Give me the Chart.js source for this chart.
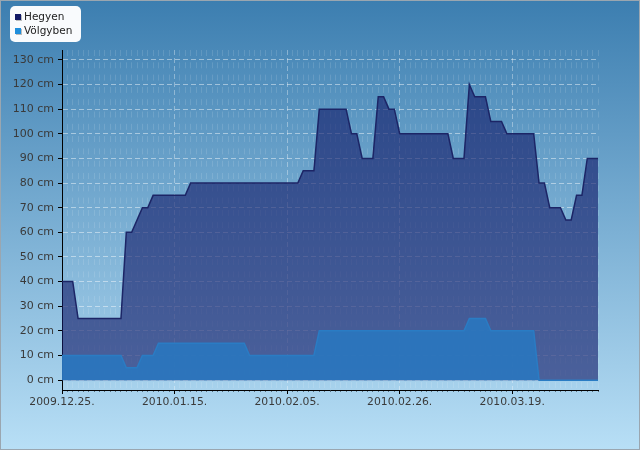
<!DOCTYPE html>
<html>
<head>
<meta charset="utf-8">
<script src="https://cdn.jsdelivr.net/npm/chart.js@4.4.1/dist/chart.umd.min.js"></script>
<style>
  html, body { margin: 0; padding: 0; background: #fff; }
  canvas { display: block; }
</style>
</head>
<body>
<canvas id="snowChart" width="640" height="450"></canvas>
<script>
// napi hóvastagság, 2009.12.25. - 2010.04.04. (index = nap a kezdettől)
const hegyen = [
  40, 40, 40, 25, 25, 25, 25, 25, 25, 25, 25, 25, 60, 60, 65, 70, 70,
  75, 75, 75, 75, 75, 75, 75,
  80, 80, 80, 80, 80, 80, 80, 80, 80, 80, 80, 80, 80, 80, 80, 80, 80, 80, 80, 80, 80,
  85, 85, 85, 110, 110, 110, 110, 110, 110, 100, 100, 90, 90, 90, 115, 115, 110, 110,
  100, 100, 100, 100, 100, 100, 100, 100, 100, 100, 90, 90, 90, 120, 115, 115, 115,
  105, 105, 105, 100, 100, 100, 100, 100, 100, 80, 80, 70, 70, 70, 65, 65, 75, 75, 90, 90, 90
];
const volgyben = [
  10, 10, 10, 10, 10, 10, 10, 10, 10, 10, 10, 10, 5, 5, 5, 10, 10, 10,
  15, 15, 15, 15, 15, 15, 15, 15, 15, 15, 15, 15, 15, 15, 15, 15, 15,
  10, 10, 10, 10, 10, 10, 10, 10, 10, 10, 10, 10, 10,
  20, 20, 20, 20, 20, 20, 20, 20, 20, 20, 20, 20, 20, 20, 20, 20, 20, 20, 20, 20, 20, 20, 20, 20, 20, 20, 20, 20,
  25, 25, 25, 25, 20, 20, 20, 20, 20, 20, 20, 20, 20,
  0, 0, 0, 0, 0, 0, 0, 0, 0, 0, 0, 0
];
const seriesNames = ["Hegyen", "Völgyben"];
const xTickDays = [0, 21, 42, 63, 84];
const xTickLabels = ["2009.12.25.", "2010.01.15.", "2010.02.05.", "2010.02.26.", "2010.03.19."];
const yTickValues = [0, 10, 20, 30, 40, 50, 60, 70, 80, 90, 100, 110, 120, 130];

const toPoints = (arr) => arr.map((v, i) => ({ x: i, y: v }));
const isMajorDay = (v) => xTickDays.includes(v);

const bgPlugin = {
  id: "bg",
  beforeDraw(chart) {
    const { ctx, width, height } = chart;
    const g = ctx.createLinearGradient(0, 0, 0, height);
    g.addColorStop(0, "#3c7eb0");
    g.addColorStop(1, "#b8dff6");
    ctx.save();
    ctx.fillStyle = g;
    ctx.fillRect(0, 0, width, height);
    ctx.strokeStyle = "#9aa6b0";
    ctx.lineWidth = 1;
    ctx.strokeRect(0.5, 0.5, width - 1, height - 1);
    ctx.restore();
  },
};

const legendPlugin = {
  id: "boxLegend",
  afterDraw(chart) {
    const { ctx } = chart;
    ctx.save();
    ctx.fillStyle = "rgba(255,255,255,0.97)";
    ctx.beginPath();
    ctx.roundRect(10, 6, 71, 36, 5);
    ctx.fill();
    const markers = ["#121a66", "#1f8fdc"];
    ctx.font = "10.5px 'DejaVu Sans'";
    ctx.textBaseline = "middle";
    seriesNames.forEach((name, i) => {
      const y = 17 + i * 14;
      ctx.fillStyle = "rgba(0,0,0,0.25)";
      ctx.fillRect(16, y - 2, 6, 6);
      ctx.fillStyle = markers[i];
      ctx.fillRect(15, y - 3, 6, 6);
      ctx.fillStyle = "#222";
      ctx.fillText(name, 24, y);
    });
    ctx.restore();
  },
};

new Chart(document.getElementById("snowChart"), {
  type: "line",
  data: {
    datasets: [
      {
        label: seriesNames[0],
        data: toPoints(hegyen),
        borderColor: "#1c2566",
        backgroundColor: "rgba(20, 28, 105, 0.62)",
        borderWidth: 1.5,
        fill: "origin",
        order: 1,
      },
      {
        label: seriesNames[1],
        data: toPoints(volgyben),
        borderColor: "#2a7cc4",
        backgroundColor: "rgba(42, 118, 190, 0.92)",
        borderWidth: 1.5,
        fill: "origin",
        order: 0,
      },
    ],
  },
  options: {
    responsive: false,
    animation: false,
    devicePixelRatio: 1,
    layout: { padding: { top: 50, right: 42, left: 0, bottom: 0 } },
    elements: { point: { radius: 0 }, line: { tension: 0 } },
    plugins: { legend: { display: false }, tooltip: { enabled: false } },
    scales: {
      x: {
        type: "linear",
        min: 0,
        max: 100,
        afterFit: (s) => { s.height = 60; },
        afterBuildTicks: (s) => {
          s.ticks = s.ticks.filter((t) => Number.isInteger(t.value) && t.value >= 0 && t.value <= 100);
        },
        ticks: {
          stepSize: 1,
          autoSkip: false,
          maxRotation: 0,
          padding: 2,
          color: "#3a3a3a",
          font: { family: "DejaVu Sans", size: 10.8 },
          callback: (v) => {
            const k = xTickDays.indexOf(v);
            return k >= 0 ? xTickLabels[k] : "";
          },
        },
        grid: {
          color: (c) => (c.tick && isMajorDay(c.tick.value) ? "rgba(255,255,255,0.35)" : "rgba(255,255,255,0.12)"),
          lineWidth: 1,
          tickLength: 4,
          tickColor: (c) => (c.tick && isMajorDay(c.tick.value) ? "#000" : "rgba(0,0,0,0.45)"),
          tickBorderDash: (c) => (c.tick && isMajorDay(c.tick.value) ? [] : [1, 2]),
        },
        border: {
          color: "#000",
          width: 1,
          dash: (c) => (c.tick && isMajorDay(c.tick.value) ? [5, 3] : [6, 6.3]),
        },
      },
      y: {
        min: -4,
        max: 134,
        afterFit: (s) => { s.width = 62; },
        afterBuildTicks: (s) => {
          s.ticks = yTickValues.map((v) => ({ value: v }));
        },
        ticks: {
          stepSize: 10,
          padding: 4,
          color: "#3a3a3a",
          font: { family: "DejaVu Sans", size: 11 },
          callback: (v) => v + " cm",
        },
        grid: {
          color: "rgba(255,255,255,0.45)",
          lineWidth: 1,
          tickLength: 4,
          tickColor: "#000",
        },
        border: { color: "#000", width: 1, dash: [5, 3] },
      },
    },
  },
  plugins: [bgPlugin, legendPlugin],
});
</script>
</body>
</html>
